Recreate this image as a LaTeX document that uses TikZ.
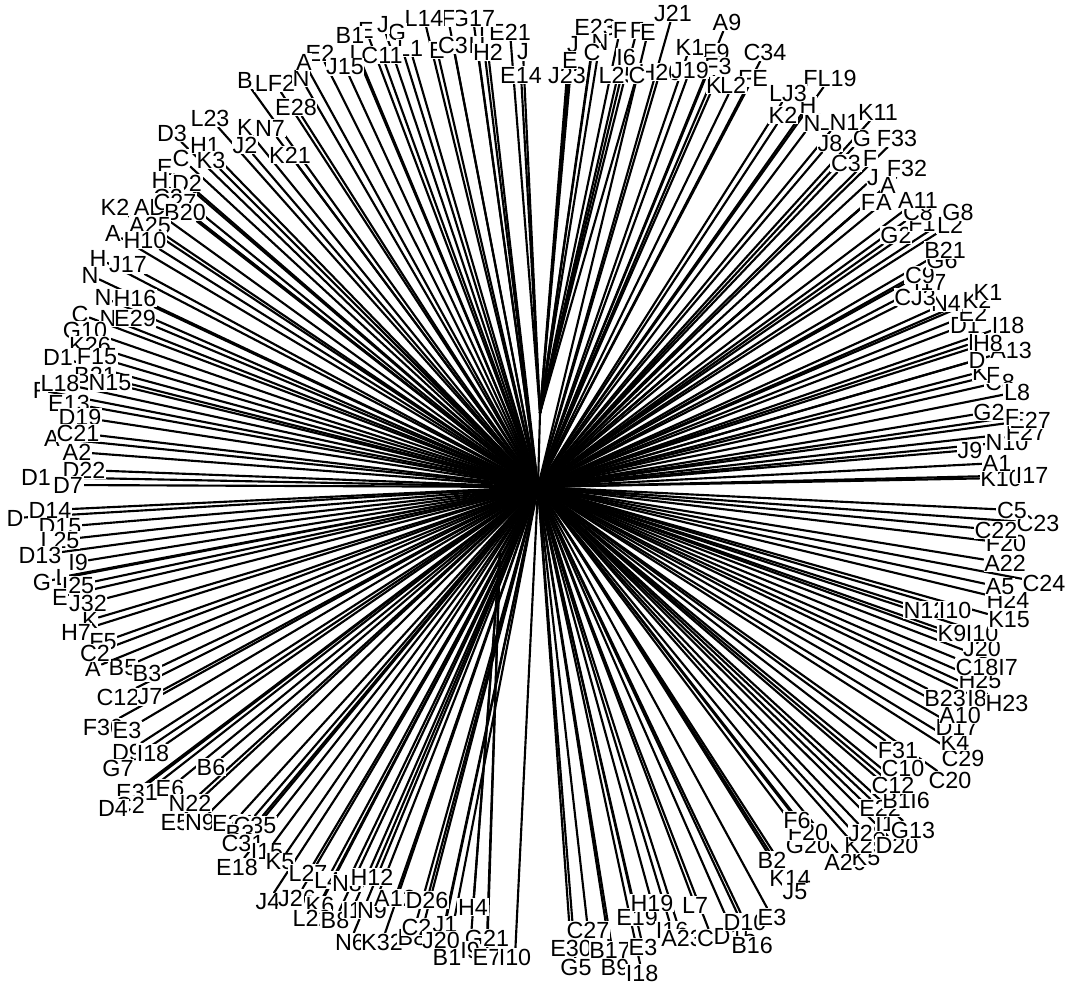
\documentclass[tikz,border=0pt]{standalone}
\usepackage{fontspec}
\setmainfont{Liberation Sans}
\usetikzlibrary{backgrounds}
\begin{document}
\begin{tikzpicture}[x=0.75pt,y=-0.75pt,
  lab/.style={fill=white,inner sep=0.5pt,font=\fontsize{17.5}{19}\selectfont},
  branch/.style={line width=1.6pt,black,line cap=round}]
\useasboundingbox (0,0) rectangle (1070,990);
\coordinate (c) at (538,487);
\coordinate (s1) at (540,413);
\coordinate (s2) at (500,552);
\foreach \x/\y/\t [count=\i] in {
245/80/B,275/83/LF2,301/78/N,320/53/E2,304/62/A,296/107/E28,210/118/L23,172/133/D3,245/127/K,270/128/N7,
205/145/H1,245/145/J2,290/155/K21,181/158/C,211/160/K3,165/167/E,187/183/D2,160/180/H,168/197/C2,115/207/K2,
150/207/AD,175/202/C27,185/212/B20,113/233/A,150/225/A25,145/240/H10,98/258/H,128/265/J17,90/275/N,103/297/N,
135/298/H16,80/314/C,108/318/N,135/318/E29,85/330/G10,90/345/K26,58/357/D1,97/357/F15,95/375/B21,110/383/N15,
40/390/F,60/383/L18,69/403/E13,80/417/D19,52/438/A,78/433/C21,77/452/A2,36/477/D1,84/470/D22,68/485/D7,
50/510/D14,15/518/D,60/527/D15,60/540/L25,40/555/D13,78/562/I9,42/582/G,62/577/L,78/585/I25,60/597/E,
88/603/J32,90/620/K,76/632/H7,103/642/F5,93/668/A,123/668/B5,147/673/B3,95/653/C2,118/697/C12,150/697/J7,
103/727/F30,127/730/E3,127/752/D9,153/753/I18,118/768/G7,137/792/E31,130/805/C2,113/808/D4,170/788/E6,211/767/B6,
190/803/N22,175/823/E5,200/822/N9,233/823/E34,255/825/C35,240/833/B3,243/843/C31,267/852/I15,237/867/E18,280/862/K5,
308/873/L27,327/880/L4,347/883/N8,372/877/H12,268/902/J4,297/898/J26,320/905/K6,312/918/L22,335/920/B8,352/910/I1,
372/910/N9,395/898/A12,427/900/D26,473/907/H4,350/942/N6,382/942/K32,412/937/B8,423/927/C28,445/925/J1,441/940/J20,
487/938/G21,447/957/B1,470/950/I9,487/957/E7,515/957/I10,
571/948/E30,576/967/G5,588/930/C27,610/950/B17,643/947/E3,615/967/B9,642/973/I18,637/917/E19,652/903/H19,672/930/I16,
695/905/L7,682/938/A23,712/938/C4,735/937/D15,745/922/D10,772/917/E3,752/945/B16,772/860/B2,790/878/K14,795/892/J5,
808/845/G20,808/832/F20,797/820/F6,845/862/A26,866/858/K5,865/845/K25,867/833/J28,897/845/D20,885/823/I1,913/830/G13,
880/808/E22,903/800/B16,920/800/I6,893/785/C12,950/780/C20,903/768/C10,963/758/C29,898/750/F31,955/742/K4,957/727/D17,
960/715/A10,945/698/B23,977/698/I8,1007/703/H23,980/680/H25,977/667/C18,1008/667/I7,982/648/J20,952/633/K9,982/633/I10,
925/610/N12,955/610/I10,1009/620/K15,1008/600/H24,1000/587/A5,1044/583/C24,1005/563/A22,1006/543/F20,996/530/C22,1038/523/C23,
1012/510/C5,1001/478/K10,1032/475/I17,997/463/A1,970/450/J9,1007/442/N10,1026/432/F27,1030/420/E27,989/412/G2,1012/417/F,
1000/382/C8,1017/392/L8,993/375/F,980/372/K,977/360/D,1011/350/A13,976/342/E,988/343/H8,965/325/D1,1008/325/I18,
973/313/E2,977/300/K2,988/292/K1,946/303/N4,915/297/CJ3,930/282/I17,920/275/C9,942/260/G6,945/250/B21,896/235/G2,
922/223/F1,950/225/L2,918/212/C8,958/212/G8,918/200/A11,884/202/A,868/202/F,888/185/A,873/178/J,907/168/F32,
870/158/F,846/163/C3,897/138/F33,862/138/G,830/143/J8,878/112/K11,838/122/LN1,812/123/N,783/115/K2,808/105/H,
830/78/FL19,788/93/LJ3,753/78/FE,733/85/L2,714/85/K,765/52/C34,727/22/A9,716/52/F9,718/66/F3,
690/47/K1,673/13/J21,660/72/H20,690/70/J19,618/75/L25,637/75/C,567/75/J23,521/75/E14,595/27/E23,620/30/F,
637/30/F,648/32/E,600/42/N,592/52/C,573/45/J,570/60/E,626/57/I6,510/32/E21,482/32/I,473/18/G17,
448/18/F,424/18/L14,397/32/G,366/30/E,383/25/J,350/35/B1,410/48/L1,437/50/E,453/45/C3,477/45/H,
488/52/H2,523/52/J,356/53/L,382/55/C11,345/67/J15}
{
  \node[lab] (n\i) at (\x,\y) {\t};
  \pgfmathtruncatemacro\ga{(\y<90)&&(\x>500)&&(\x<645)}
  \pgfmathtruncatemacro\gb{(\y>895)&&(\x>460)&&(\x<500)}
  \ifnum\ga=1 \expandafter\xdef\csname par\i\endcsname{s1}%
  \else\ifnum\gb=1 \expandafter\xdef\csname par\i\endcsname{s2}%
  \else \expandafter\xdef\csname par\i\endcsname{c}\fi\fi
  \xdef\nleaves{\i}
}
\begin{pgfonlayer}{background}
  \draw[branch] (c) -- (s1);
  \draw[branch] (c) -- (s2);
  \foreach \i in {1,...,\nleaves} {\draw[branch] (\csname par\i\endcsname) -- (n\i);}
\end{pgfonlayer}
\end{tikzpicture}
\end{document}
